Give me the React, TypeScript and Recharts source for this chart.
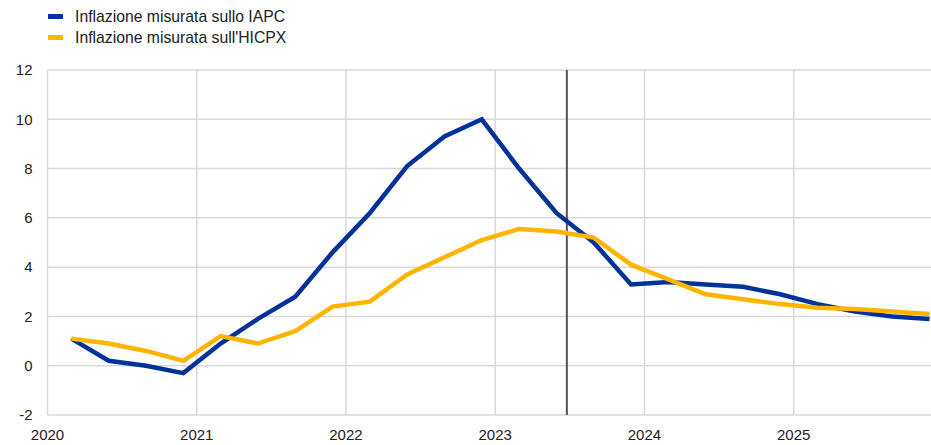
import React from 'react';
import { LineChart, Line, XAxis, YAxis, CartesianGrid, ReferenceLine } from 'recharts';

const quarters = [
  '2020Q1', '2020Q2', '2020Q3', '2020Q4',
  '2021Q1', '2021Q2', '2021Q3', '2021Q4',
  '2022Q1', '2022Q2', '2022Q3', '2022Q4',
  '2023Q1', '2023Q2', '2023Q3', '2023Q4',
  '2024Q1', '2024Q2', '2024Q3', '2024Q4',
  '2025Q1', '2025Q2', '2025Q3', '2025Q4',
];

// IAPC (headline HICP)
const iapc = [
  1.1, 0.2, 0.0, -0.3,
  0.9, 1.9, 2.8, 4.6,
  6.2, 8.1, 9.3, 10.0,
  8.0, 6.2, 5.0, 3.3,
  3.4, 3.3, 3.2, 2.9,
  2.5, 2.2, 2.0, 1.9,
];

// HICPX (excluding energy and food)
const hicpx = [
  1.1, 0.9, 0.6, 0.2,
  1.2, 0.9, 1.4, 2.4,
  2.6, 3.7, 4.4, 5.1,
  5.55, 5.45, 5.2, 4.1,
  3.5, 2.9, 2.7, 2.5,
  2.35, 2.3, 2.2, 2.1,
];

const yearTicks = [2020, 2021, 2022, 2023, 2024, 2025];
const valueTicks = [-2, 0, 2, 4, 6, 8, 10, 12];
const projectionStart = 2023.48;

const seriesNames = {
  iapc: 'Inflazione misurata sullo IAPC',
  hicpx: "Inflazione misurata sull'HICPX",
};

const BLUE = '#003299';
const YELLOW = '#FFB400';
const FONT = '"Liberation Sans", Arial, sans-serif';

// quarter label -> position on a continuous year axis
const toYear = (q: string) => Number(q.slice(0, 4)) + (Number(q.slice(5)) - 1) * 0.25 + 0.16;

const data = quarters.map((q, i) => ({ t: toYear(q), iapc: iapc[i], hicpx: hicpx[i] }));

const legendItems = [
  { name: seriesNames.iapc, color: BLUE },
  { name: seriesNames.hicpx, color: YELLOW },
];

export default function App() {
  return (
    <div style={{ position: 'absolute', left: 0, top: 0, width: 931, height: 445, background: '#fff' }}>
      <div style={{ position: 'absolute', left: 48, top: 6, fontFamily: FONT, fontSize: 15.75, color: '#222', zIndex: 1 }}>
        {legendItems.map((item) => (
          <div key={item.name} style={{ display: 'flex', alignItems: 'center', height: 21 }}>
            <span style={{ display: 'inline-block', width: 15, height: 5, background: item.color, marginRight: 12 }} />
            <span>{item.name}</span>
          </div>
        ))}
      </div>
      <LineChart width={931} height={445} data={data} margin={{ top: 70, right: 0, left: 0, bottom: 0 }}>
        <CartesianGrid stroke="#d9d9d9" strokeWidth={1.5} vertical horizontal verticalValues={yearTicks} />
        <XAxis
          type="number"
          dataKey="t"
          domain={[2020, 2025.92]}
          ticks={yearTicks}
          tickLine={false}
          axisLine={false}
          tickMargin={8}
          height={30}
          tick={{ fill: '#222', fontSize: 15, fontFamily: FONT }}
          allowDataOverflow
        />
        <YAxis
          type="number"
          domain={[-2, 12]}
          ticks={valueTicks}
          width={47.5}
          tickLine={false}
          axisLine={false}
          tickMargin={9}
          tick={{ fill: '#222', fontSize: 15, fontFamily: FONT }}
          interval={0}
        />
        <ReferenceLine x={projectionStart} stroke="#555" strokeWidth={2} />
        <Line
          type="linear"
          dataKey="iapc"
          name={seriesNames.iapc}
          stroke={BLUE}
          strokeWidth={4.5}
          dot={false}
          isAnimationActive={false}
        />
        <Line
          type="linear"
          dataKey="hicpx"
          name={seriesNames.hicpx}
          stroke={YELLOW}
          strokeWidth={4.5}
          dot={false}
          isAnimationActive={false}
        />
      </LineChart>
    </div>
  );
}
